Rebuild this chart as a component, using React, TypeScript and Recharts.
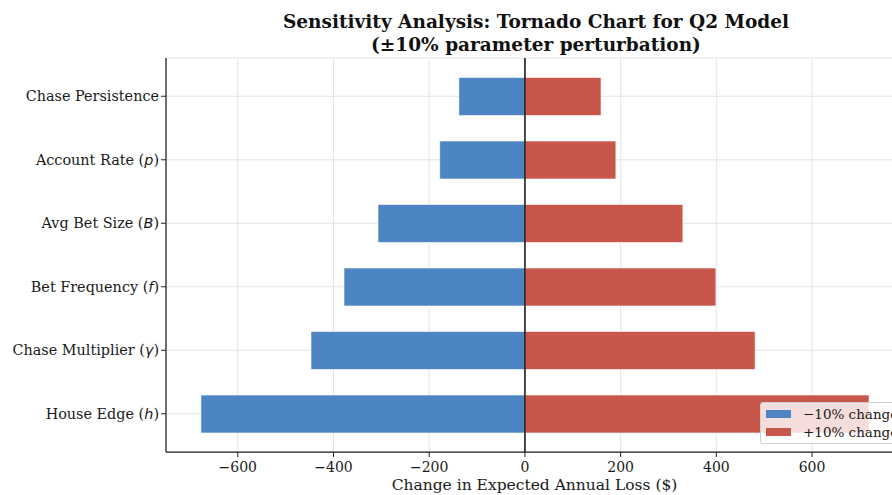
import {
  Bar,
  BarChart,
  CartesianGrid,
  ReferenceLine,
  XAxis,
  YAxis,
} from "recharts";

// parameters, top to bottom as drawn
const paramNames = [
  "Chase Persistence",
  "Account Rate",
  "Avg Bet Size",
  "Bet Frequency",
  "Chase Multiplier",
  "House Edge",
];
const paramSymbols = ["", "p", "B", "f", "γ", "h"];

// change in expected annual loss ($)
const minusTen = [-138, -178, -307, -378, -447, -677];
const plusTen = [159, 190, 330, 399, 481, 719];

const xTicks = [-600, -400, -200, 0, 200, 400, 600];

const BLUE = "#4C85C1";
const RED = "#C8564A";
const SERIF = "'DejaVu Serif', serif";

const data = paramNames.map((name, i) => ({
  name,
  minus: minusTen[i],
  plus: plusTen[i],
}));

const ParamTick = (props: any) => {
  const { x, y, payload } = props;
  const i = paramNames.indexOf(payload.value);
  const sym = paramSymbols[i];
  return (
    <text
      x={x}
      y={y}
      dy={5}
      textAnchor="end"
      fontFamily={SERIF}
      fontSize={14.4}
      fill="#1a1a1a"
    >
      {sym ? (
        <>
          <tspan>{payload.value} (</tspan>
          <tspan fontFamily="'DejaVu Sans', sans-serif" fontStyle="italic">
            {sym}
          </tspan>
          <tspan>)</tspan>
        </>
      ) : (
        payload.value
      )}
    </text>
  );
};

const formatTick = (v: number) => (v < 0 ? `\u2212${Math.abs(v)}` : String(v));

export default function App() {
  return (
    <div
      style={{
        position: "absolute",
        left: 0,
        top: 0,
        width: 892,
        height: 495,
        overflow: "hidden",
        background: "#fff",
      }}
    >
      <div
        style={{
          position: "absolute",
          left: 536 - 320,
          width: 640,
          top: 10,
          textAlign: "center",
          fontFamily: SERIF,
          fontWeight: "bold",
          fontSize: 18.5,
          lineHeight: "23px",
          color: "#111",
        }}
      >
        Sensitivity Analysis: Tornado Chart for Q2 Model
        <br />
        (±10% parameter perturbation)
      </div>
      <BarChart
        width={920}
        height={495}
        data={data}
        layout="vertical"
        stackOffset="sign"
        margin={{ top: 58, right: 17, left: 0, bottom: 0 }}
      >
        <CartesianGrid stroke="#e4e4e4" strokeWidth={1} />
        <XAxis
          type="number"
          domain={[-750, 790]}
          ticks={xTicks}
          allowDataOverflow
          height={43}
          tickFormatter={formatTick}
          tick={{ fontSize: 14, fill: "#1a1a1a", fontFamily: SERIF, dy: 3 }}
          tickSize={5}
          tickLine={{ stroke: "#222" }}
          axisLine={{ stroke: "#222", strokeWidth: 1.25 }}
          label={{
            value: "Change in Expected Annual Loss ($)",
            position: "insideBottom",
            offset: 5,
            fontSize: 15.5,
            fill: "#1a1a1a",
            fontFamily: SERIF,
          }}
        />
        <YAxis
          type="category"
          dataKey="name"
          width={166}
          padding={{ top: 6.5, bottom: 6.5 }}
          tick={<ParamTick />}
          tickSize={5}
          tickLine={{ stroke: "#222" }}
          axisLine={{ stroke: "#222", strokeWidth: 1.25 }}
        />
        <Bar
          dataKey="minus"
          stackId="s"
          fill={BLUE}
          stroke="#fff"
          strokeWidth={0.6}
          barSize={38}
          isAnimationActive={false}
        />
        <Bar
          dataKey="plus"
          stackId="s"
          fill={RED}
          stroke="#fff"
          strokeWidth={0.6}
          barSize={38}
          isAnimationActive={false}
        />
        <ReferenceLine x={0} stroke="#111" strokeWidth={1.5} />
      </BarChart>
      <div
        style={{
          position: "absolute",
          left: 760,
          top: 402,
          width: 150,
          height: 40,
          background: "rgba(255,255,255,0.8)",
          border: "1px solid #d0d0d0",
          borderRadius: 3,
          fontFamily: SERIF,
          fontSize: 13.5,
          color: "#1a1a1a",
        }}
      >
        {[
          { label: "\u221210% change", color: BLUE },
          { label: "+10% change", color: RED },
        ].map((item, i) => (
          <div
            key={item.label}
            style={{
              position: "absolute",
              left: 5,
              top: 2 + i * 18,
              height: 18,
              display: "flex",
              alignItems: "center",
              whiteSpace: "nowrap",
            }}
          >
            <span
              style={{
                display: "inline-block",
                width: 25,
                height: 8,
                background: item.color,
                marginRight: 12,
              }}
            />
            {item.label}
          </div>
        ))}
      </div>
    </div>
  );
}
